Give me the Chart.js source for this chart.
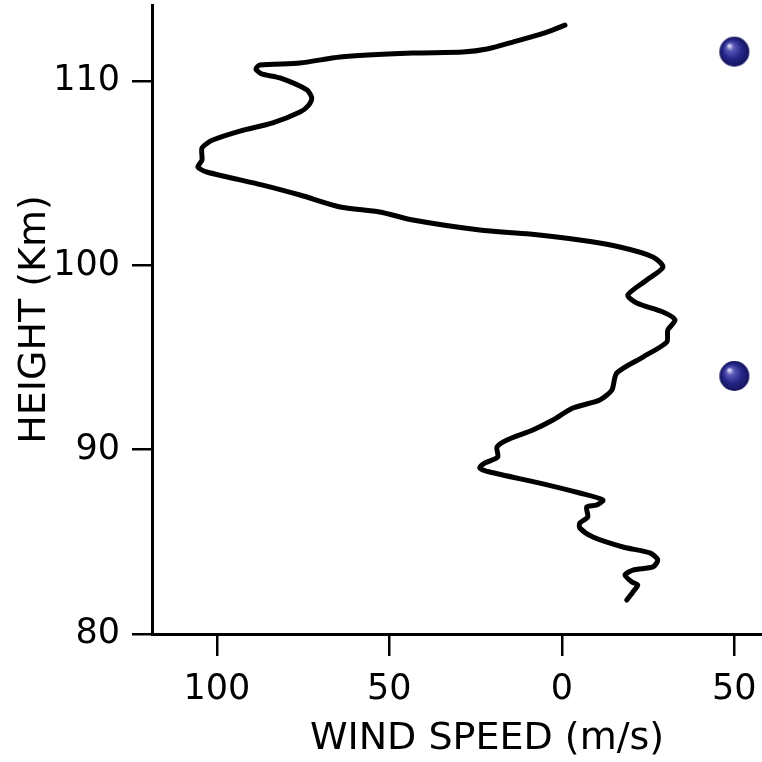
<!DOCTYPE html>
<html>
<head>
<meta charset="utf-8">
<script src="https://cdn.jsdelivr.net/npm/chart.js@4.4.1/dist/chart.umd.min.js"></script>
<style>
    html, body { margin: 0; padding: 0; background: #fff; overflow: hidden; }
    #wrap { width: 762px; height: 762px; overflow: hidden; }
</style>
</head>
<body>
<div id="wrap"><canvas id="windChart" width="822" height="762"></canvas></div>
<script>
    // Wind profile, traced from top to bottom
    var windSpeed = [-0.9, 4.3, 14.2, 21.7, 28.7, 43.2, 64.3, 75.9, 87.5, 88.7,
        87.0, 81.7, 73.9, 72.5, 73.6, 75.9, 83.8, 93.3, 101.2, 104.3,
        104.3, 105.5, 102.9, 86.7, 75.9, 64.3, 52.8, 43.2, 23.8, 9.3,
        -5.2, -16.8, -26.4, -29.3, -24.6, -19.1, -21.7, -29.3, -32.8, -30.7,
        -30.4, -23.5, -15.9, -14.5, -11.0, -3.2, 2.6, 8.4, 15.9, 18.8,
        18.6, 22.3, 23.8, 20.9, 6.4, -5.2, -11.9, -10.1, -7.2, -7.5,
        -5.2, -5.2, -9.0, -17.7, -25.5, -27.8, -26.4, -20.6, -18.3, -20.3,
        -22.0, -20.6, -18.8];
    var height = [113.04, 112.66, 112.12, 111.74, 111.58, 111.52, 111.31, 110.98, 110.87, 110.66,
        110.39, 110.17, 109.52, 109.08, 108.65, 108.32, 107.73, 107.29, 106.80, 106.37,
        105.72, 105.34, 105.07, 104.36, 103.82, 103.17, 102.90, 102.46, 101.92, 101.70,
        101.38, 101.00, 100.46, 99.91, 99.21, 98.39, 97.96, 97.47, 97.04, 96.49,
        95.84, 95.03, 94.16, 93.24, 92.70, 92.26, 91.61, 91.07, 90.53, 90.15,
        89.60, 89.28, 89.01, 88.79, 88.19, 87.65, 87.27, 87.00, 86.89, 86.35,
        86.02, 85.75, 85.26, 84.72, 84.40, 84.02, 83.64, 83.47, 83.20, 82.82,
        82.66, 82.28, 81.84];

    // the two blue markers on the right
    var markerSpeed = [-50, -50];
    var markerHeight = [111.6, 94.0];

    var xTickValues = [-50, 0, 50, 100];
    var xTickLabels = ['50', '0', '50', '100'];
    var yTickValues = [80, 90, 100, 110];
    var yTickLabels = ['80', '90', '100', '110'];

    function makeSphere(r) {
        var c = document.createElement('canvas');
        c.width = c.height = r * 2 + 2;
        var g = c.getContext('2d');
        var cx = r + 1, cy = r + 1;
        var grad = g.createRadialGradient(cx - r * 0.35, cy - r * 0.4, r * 0.05, cx, cy, r);
        grad.addColorStop(0, '#dcdcf6');
        grad.addColorStop(0.22, '#5a5ab6');
        grad.addColorStop(0.6, '#27278b');
        grad.addColorStop(1, '#14145c');
        g.fillStyle = grad;
        g.beginPath();
        g.arc(cx, cy, r, 0, Math.PI * 2);
        g.fill();
        return c;
    }

    // keep the plot area fixed: no extra room for edge labels
    function noPadding(scale) {
        scale.paddingTop = 0;
        scale.paddingBottom = 0;
        scale.paddingLeft = 0;
        scale.paddingRight = 0;
    }

    var profile = windSpeed.map(function(v, i) { return {x: v, y: height[i]}; });
    var markers = markerSpeed.map(function(v, i) { return {x: v, y: markerHeight[i]}; });

    var labelFont = {family: 'DejaVu Sans', size: 35};
    var titleFont = {family: 'DejaVu Sans', size: 38};

    var ctx = document.getElementById('windChart').getContext('2d');
    new Chart(ctx, {
        type: 'scatter',
        data: {
            datasets: [{
                data: profile,
                showLine: true,
                borderColor: '#000',
                borderWidth: 5,
                borderCapStyle: 'round',
                borderJoinStyle: 'round',
                tension: 0.25,
                pointRadius: 0
            }, {
                data: markers,
                pointStyle: makeSphere(15),
                pointRadius: 15,
                clip: false
            }]
        },
        options: {
            responsive: false,
            animation: false,
            layout: {autoPadding: false, padding: {top: 5, left: 0, right: 0, bottom: 0}},
            plugins: {
                legend: {display: false},
                tooltip: {enabled: false}
            },
            scales: {
                x: {
                    type: 'linear',
                    reverse: true,
                    min: -75.4,
                    max: 118.8,
                    afterBuildTicks: function(scale) {
                        scale.ticks = xTickValues.map(function(v) { return {value: v}; });
                    },
                    afterFit: function(scale) {
                        scale.height = 128;
                        noPadding(scale);
                    },
                    border: {display: true, color: '#000', width: 3},
                    grid: {drawOnChartArea: false, drawTicks: true, tickLength: 22, color: '#000', lineWidth: 2.5},
                    ticks: {
                        color: '#000',
                        font: labelFont,
                        padding: 13,
                        maxRotation: 0,
                        autoSkip: false,
                        callback: function(value, index) { return xTickLabels[index]; }
                    },
                    title: {
                        display: true,
                        text: 'WIND SPEED (m/s)',
                        color: '#000',
                        font: titleFont,
                        padding: {top: 0, bottom: 0}
                    }
                },
                y: {
                    type: 'linear',
                    min: 80,
                    max: 114.13,
                    afterBuildTicks: function(scale) {
                        scale.ticks = yTickValues.map(function(v) { return {value: v}; });
                    },
                    afterFit: function(scale) {
                        scale.width = 152;
                        noPadding(scale);
                    },
                    border: {display: true, color: '#000', width: 3},
                    grid: {drawOnChartArea: false, drawTicks: true, tickLength: 20, color: '#000', lineWidth: 2.5},
                    ticks: {
                        color: '#000',
                        font: labelFont,
                        padding: 12,
                        autoSkip: false,
                        callback: function(value, index) { return yTickLabels[index]; }
                    },
                    title: {
                        display: true,
                        text: 'HEIGHT (Km)',
                        color: '#000',
                        font: titleFont,
                        padding: {top: 12, bottom: 0}
                    }
                }
            }
        }
    });
</script>
</body>
</html>
